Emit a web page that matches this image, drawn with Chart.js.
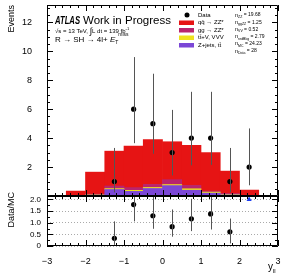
<!DOCTYPE html>
<html>
<head>
<meta charset="utf-8">
<script src="https://cdn.jsdelivr.net/npm/chart.js@4.4.1/dist/chart.umd.min.js"></script>
<style>
  body { margin: 0; background: #fff; }
  #wrap { position: relative; width: 282px; height: 274px; }
  canvas { position: absolute; left: 0; }
</style>
</head>
<body>
<div id="wrap">
  <canvas id="mainChart" width="282" height="200" style="top:0"></canvas>
  <canvas id="ratioChart" width="282" height="84" style="top:190px"></canvas>
</div>
<script>
// histogram bins (width 0.5) and stacked MC contributions
const binCenters = [-2.25, -1.75, -1.25, -0.75, -0.25, 0.25, 0.75, 1.25, 1.75, 2.25];
const zjets = [0.02, 0.06, 0.45, 0.32, 0.52, 0.72, 0.40, 0.20, 0.08, 0.02];
const ttvVvv = [0.01, 0.02, 0.06, 0.07, 0.07, 0.07, 0.10, 0.07, 0.03, 0.01];
const ggZZ = [0.01, 0.05, 0.18, 0.19, 0.21, 0.34, 0.23, 0.07, 0.06, 0.01];
const qqZZ = [0.30, 1.52, 2.41, 2.87, 3.10, 2.62, 2.77, 2.66, 1.55, 0.37];

// data points with asymmetric errors
const dataX = [-1.25, -0.75, -0.25, 0.25, 0.75, 1.25, 1.75, 2.25];
const dataY = [1, 6, 5, 3, 4, 4, 1, 2];
const dataLow = [0.25, 3.65, 2.92, 1.42, 2.12, 2.15, 0.25, 0.74];
const dataHigh = [3.32, 9.6, 8.45, 5.95, 7.2, 7.2, 3.32, 4.67];

// ratio panel
const ratioX = [-1.25, -0.75, -0.25, 0.25, 0.75, 1.25, 1.75];
const ratioY = [0.33, 1.78, 1.30, 0.83, 1.17, 1.38, 0.61];
const ratioLow = [0.05, 1.06, 0.74, 0.40, 0.64, 0.71, 0.11];
const ratioHigh = [1.06, 2.78, 2.15, 1.57, 2.03, 2.39, 1.18];
const offScaleX = [2.25];
const offScaleY = [2.0];

const legendLabels = ["q\u0071\u0304 \u2192 ZZ*", "gg \u2192 ZZ*", "t\u0074\u0304+V, VVV", "Z+jets, t\u0074\u0304"];
const legendColors = ["#e61414", "#b8246e", "#eee21e", "#7b47d6"];
const yieldNames = ["ZZ", "ggZZ", "VV", "redBkg", "MC", "Data"];
const yieldValues = ["19.68", "1.25", "0.52", "2.79", "24.23", "28"];

const FONT = "'Liberation Sans', Arial, sans-serif";
Chart.defaults.font.family = FONT;
Chart.defaults.color = "#000";

const toPoints = (xs, ys) => xs.map((x, i) => ({ x: x, y: ys[i] }));

// ROOT-like frame with inward ticks on all sides
const frameTicks = {
  id: "frameTicks",
  afterDraw(chart, args, o) {
    const { ctx, chartArea: a, scales } = chart;
    const x = scales.x, y = scales.y;
    ctx.save();
    ctx.strokeStyle = "#000";
    ctx.lineWidth = 1;
    ctx.beginPath();
    for (let i = 0; i <= 30; i++) {
      const v = -3 + i * 0.2;
      const px = Math.round(x.getPixelForValue(v)) + 0.5;
      const len = i % 5 === 0 ? 6 : 3;
      ctx.moveTo(px, a.bottom); ctx.lineTo(px, a.bottom - len);
      ctx.moveTo(px, a.top); ctx.lineTo(px, a.top + len);
    }
    const n = Math.floor(y.max / o.yMinor + 1e-6);
    for (let i = 0; i <= n; i++) {
      const v = i * o.yMinor;
      const py = Math.round(y.getPixelForValue(v)) + 0.5;
      const len = i % o.perMajor === 0 ? 6 : 3;
      ctx.moveTo(a.left, py); ctx.lineTo(a.left + len, py);
      ctx.moveTo(a.right, py); ctx.lineTo(a.right - len, py);
    }
    ctx.rect(a.left + 0.5, a.top + 0.5, a.right - a.left - 1, a.bottom - a.top - 1);
    ctx.stroke();
    ctx.restore();
  }
};

const errorBars = {
  id: "errorBars",
  afterDatasetsDraw(chart, args, o) {
    const { ctx, chartArea: a, scales: { x, y } } = chart;
    ctx.save();
    ctx.beginPath();
    ctx.rect(a.left, a.top, a.right - a.left, a.bottom - a.top);
    ctx.clip();
    ctx.strokeStyle = "#555";
    ctx.lineWidth = 1;
    ctx.beginPath();
    o.xs.forEach((xv, i) => {
      const px = Math.round(x.getPixelForValue(xv)) + 0.5;
      ctx.moveTo(px, y.getPixelForValue(o.lows[i]));
      ctx.lineTo(px, y.getPixelForValue(o.highs[i]));
    });
    ctx.stroke();
    ctx.restore();
  }
};

// draws text pieces left to right: [text, size, dy, style]
function drawRun(ctx, x, y, parts) {
  parts.forEach(([t, size, dy, style]) => {
    ctx.font = (style || "") + " " + size + "px " + FONT;
    ctx.fillText(t, x, y + (dy || 0));
    x += ctx.measureText(t).width;
  });
  return x;
}

const mainText = {
  id: "mainText",
  afterDraw(chart) {
    const ctx = chart.ctx;
    ctx.save();
    ctx.fillStyle = "#000";
    ctx.textBaseline = "alphabetic";

    ctx.font = "italic bold 10px " + FONT;
    ctx.fillText("ATLAS", 55, 24, 25);
    ctx.font = "11.5px " + FONT;
    ctx.fillText("Work in Progress", 83, 24, 92);

    drawRun(ctx, 55, 33, [["\u221As = 13 TeV, ", 6], ["\u222B", 9, 1], ["L dt = 139 fb", 6], ["-1", 4, -3]]);
    drawRun(ctx, 55, 42, [["R \u2192 SH \u2192 4l+ ", 8], ["E", 8, 0, "italic"], ["T", 5, 2], ["miss", 5, -6]]);

    // legend
    ctx.textBaseline = "middle";
    ctx.beginPath();
    ctx.arc(187, 15, 2.5, 0, Math.PI * 2);
    ctx.fill();
    ctx.font = "6px " + FONT;
    ctx.fillText("Data", 198, 15);
    legendLabels.forEach((lab, i) => {
      const yy = 22.5 + i * 7.5;
      ctx.fillStyle = legendColors[i];
      ctx.fillRect(179, yy - 2, 15, 4.5);
      ctx.fillStyle = "#000";
      ctx.font = "6px " + FONT;
      ctx.fillText(lab, 198, yy);
    });

    yieldNames.forEach((nm, i) => {
      const yy = 15 + i * 7.2;
      drawRun(ctx, 235, yy, [["n", 5.5], [nm, 3.5, 2], [" = " + yieldValues[i], 5]]);
    });

    // y axis title
    ctx.translate(12, 5);
    ctx.rotate(-Math.PI / 2);
    ctx.textAlign = "right";
    ctx.font = "9px " + FONT;
    ctx.fillText("Events", 0, 0);
    ctx.restore();
  }
};

const ratioText = {
  id: "ratioText",
  afterDraw(chart) {
    const ctx = chart.ctx;
    ctx.save();
    ctx.fillStyle = "#000";
    drawRun(ctx, 268, 80, [["y", 10], ["ll", 6, 3]]);
    ctx.translate(12, 2);
    ctx.rotate(-Math.PI / 2);
    ctx.textAlign = "right";
    ctx.textBaseline = "middle";
    ctx.font = "9px " + FONT;
    ctx.fillText("Data/MC", 0, 0);
    ctx.restore();
  }
};

const stackSets = [
  { label: "Z+jets, tt", values: zjets, color: legendColors[3] },
  { label: "ttV, VVV", values: ttvVvv, color: legendColors[2] },
  { label: "gg -> ZZ*", values: ggZZ, color: legendColors[1] },
  { label: "qq -> ZZ*", values: qqZZ, color: legendColors[0] }
].map((s) => ({
  type: "bar",
  label: s.label,
  data: toPoints(binCenters, s.values),
  backgroundColor: s.color,
  borderWidth: 0,
  stack: "mc",
  barPercentage: 1,
  categoryPercentage: 1
}));

new Chart(document.getElementById("mainChart"), {
  type: "bar",
  data: {
    datasets: [
      {
        type: "scatter",
        label: "Data",
        data: toPoints(dataX, dataY),
        pointRadius: 2.6,
        backgroundColor: "#000",
        borderWidth: 0
      },
      ...stackSets
    ]
  },
  options: {
    responsive: false,
    animation: false,
    devicePixelRatio: 1,
    layout: { padding: { left: 0, right: 4, top: 5, bottom: 4 } },
    plugins: {
      legend: { display: false },
      tooltip: { enabled: false },
      errorBars: { xs: dataX, lows: dataLow, highs: dataHigh },
      frameTicks: { yMinor: 0.5, perMajor: 4 }
    },
    scales: {
      x: { type: "linear", min: -3, max: 3, offset: false, display: false },
      y: {
        min: 0,
        max: 13.2,
        grid: { display: false },
        border: { display: false },
        ticks: {
          stepSize: 2,
          includeBounds: false,
          autoSkip: false,
          padding: 7,
          font: { size: 9 },
          callback: (v) => (v === 0 ? "" : v)
        },
        afterFit: (s) => { s.width = 47; s.paddingTop = 0; s.paddingBottom = 0; }
      }
    }
  },
  plugins: [errorBars, frameTicks, mainText]
});

new Chart(document.getElementById("ratioChart"), {
  type: "scatter",
  data: {
    datasets: [
      {
        label: "Data/MC",
        data: toPoints(ratioX, ratioY),
        pointRadius: 2.6,
        backgroundColor: "#000",
        borderWidth: 0
      },
      {
        label: "off scale",
        data: toPoints(offScaleX, offScaleY),
        pointStyle: "triangle",
        pointRadius: 3,
        backgroundColor: "#1a3cf0",
        borderWidth: 0
      }
    ]
  },
  options: {
    responsive: false,
    animation: false,
    devicePixelRatio: 1,
    layout: { padding: { left: 0, right: 4, top: 6, bottom: 0 } },
    plugins: {
      legend: { display: false },
      tooltip: { enabled: false },
      errorBars: { xs: ratioX, lows: ratioLow, highs: ratioHigh },
      frameTicks: { yMinor: 0.25, perMajor: 2 }
    },
    scales: {
      x: {
        type: "linear",
        min: -3,
        max: 3,
        grid: { display: false },
        border: { display: false },
        ticks: {
          stepSize: 1,
          autoSkip: false,
          padding: 2,
          font: { size: 9 },
          callback: (v) => (v < 0 ? "\u2212" + Math.abs(v) : String(v))
        },
        afterFit: (s) => { s.height = 28; s.paddingLeft = 0; s.paddingRight = 0; }
      },
      y: {
        min: 0,
        max: 2.15,
        grid: { display: true, color: "#aaa", drawTicks: false },
        border: { display: false, dash: [1, 2] },
        ticks: { stepSize: 0.5, includeBounds: false, autoSkip: false, padding: 6, font: { size: 8 } },
        afterFit: (s) => { s.width = 47; s.paddingTop = 0; s.paddingBottom = 0; }
      }
    }
  },
  plugins: [errorBars, frameTicks, ratioText]
});
</script>
</body>
</html>
